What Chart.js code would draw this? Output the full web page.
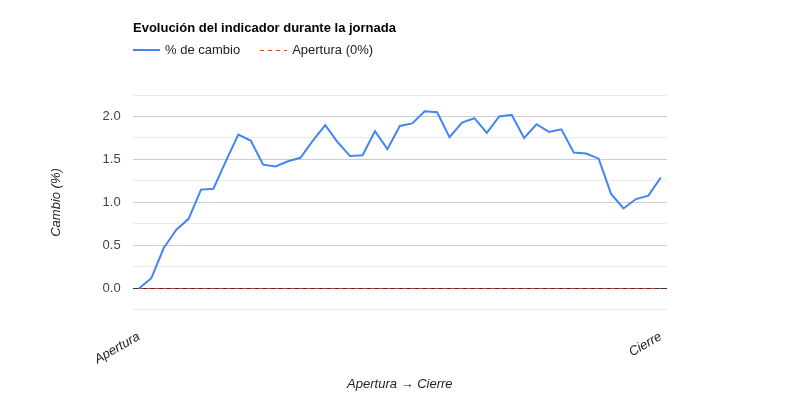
<!DOCTYPE html>
<html lang="es">
<head>
<meta charset="utf-8">
<title>Evolución del indicador durante la jornada</title>
<script src="https://cdn.jsdelivr.net/npm/chart.js@4.4.1/dist/chart.umd.min.js"></script>
<style>
  html, body { margin: 0; padding: 0; background: #fff; }
  #wrap { position: relative; width: 800px; height: 400px; font-family: "Liberation Sans", Arial, sans-serif; }
  #chart { position: absolute; left: 0; top: 0; }
  #title { position: absolute; left: 133px; top: 20px; font-size: 13px; font-weight: bold; color: #000; white-space: nowrap; }
  #legend { position: absolute; left: 133px; top: 42px; font-size: 13px; color: #222; display: flex; white-space: nowrap; }
  .item { display: flex; align-items: center; margin-right: 20px; height: 16px; line-height: 16px; }
  .swatch { width: 27px; margin-right: 5px; }
</style>
</head>
<body>
<div id="wrap">
  <canvas id="chart" width="800" height="400"></canvas>
  <div id="title">Evolución del indicador durante la jornada</div>
  <div id="legend"></div>
</div>
<script>
// Etiquetas del eje X (solo se muestran apertura y cierre)
const etiquetas = [
  'Apertura', '', '', '', '', '', '', '', '', '', '',
  '', '', '', '', '', '', '', '', '', '',
  '', '', '', '', '', '', '', '', '', '',
  '', '', '', '', '', '', '', '', '', '',
  '', 'Cierre'
];

// % de cambio respecto a la apertura
const cambio = [
  0.00, 0.12, 0.47, 0.68, 0.81, 1.15, 1.16, 1.48, 1.79, 1.72,
  1.44, 1.42, 1.48, 1.52, 1.72, 1.90, 1.70, 1.54, 1.55, 1.83,
  1.62, 1.89, 1.92, 2.06, 2.05, 1.76, 1.93, 1.98, 1.81, 2.00,
  2.02, 1.75, 1.91, 1.82, 1.85, 1.58, 1.57, 1.51, 1.10, 0.93,
  1.04, 1.08, 1.29
];

// Línea de referencia: apertura (0%)
const apertura = [
  0, 0, 0, 0, 0, 0, 0, 0, 0, 0,
  0, 0, 0, 0, 0, 0, 0, 0, 0, 0,
  0, 0, 0, 0, 0, 0, 0, 0, 0, 0,
  0, 0, 0, 0, 0, 0, 0, 0, 0, 0,
  0, 0, 0
];

const fuente = '"Liberation Sans", Arial, sans-serif';

const series = [
  { label: '% de cambio', data: cambio, color: '#4285f4', width: 2, dash: [] },
  { label: 'Apertura (0%)', data: apertura, color: '#e8402f', width: 1, dash: [4, 4] }
];

// Leyenda
const legend = document.getElementById('legend');
series.forEach(s => {
  const item = document.createElement('div');
  item.className = 'item';
  const sw = document.createElement('span');
  sw.className = 'swatch';
  if (s.dash.length) {
    sw.style.height = '1px';
    sw.style.background = `repeating-linear-gradient(to right, ${s.color} 0 4px, transparent 4px 8px)`;
  } else {
    sw.style.height = s.width + 'px';
    sw.style.background = s.color;
  }
  item.appendChild(sw);
  const txt = document.createElement('span');
  txt.textContent = s.label;
  item.appendChild(txt);
  legend.appendChild(item);
});

const ctx = document.getElementById('chart').getContext('2d');

new Chart(ctx, {
  type: 'line',
  data: {
    labels: etiquetas,
    datasets: series.map(s => ({
      label: s.label,
      data: s.data,
      borderColor: s.color,
      backgroundColor: s.color,
      borderWidth: s.width,
      borderDash: s.dash,
      pointRadius: 0,
      tension: 0,
      fill: false
    }))
  },
  options: {
    responsive: false,
    animation: false,
    layout: {
      padding: { top: 95, right: 133, bottom: 8, left: 49 }
    },
    plugins: {
      legend: { display: false },
      title: { display: false },
      tooltip: { enabled: false }
    },
    scales: {
      x: {
        offset: true,
        grid: { display: false },
        border: { display: false },
        ticks: {
          autoSkip: false,
          minRotation: 30,
          maxRotation: 30,
          padding: 11,
          color: '#222',
          font: { family: fuente, size: 13, style: 'italic' }
        },
        title: {
          display: true,
          text: 'Apertura → Cierre',
          color: '#222',
          padding: { top: -2, bottom: 0 },
          font: { family: fuente, size: 13, style: 'italic' }
        }
      },
      y: {
        min: -0.25,
        max: 2.25,
        border: { display: false },
        grid: {
          drawTicks: false,
          lineWidth: 1,
          color: c => {
            const v = c.tick.value;
            if (Math.abs(v) < 1e-6) return '#333';
            return Math.abs(v * 2 - Math.round(v * 2)) < 1e-6 ? '#cccccc' : '#ebebeb';
          }
        },
        ticks: {
          stepSize: 0.25,
          padding: 12,
          color: '#444',
          font: { family: fuente, size: 13 },
          callback: v => (v >= 0 && Math.abs(v * 2 - Math.round(v * 2)) < 1e-6) ? v.toFixed(1) : ''
        },
        title: {
          display: true,
          text: 'Cambio (%)',
          color: '#222',
          padding: { top: 0, bottom: 26 },
          font: { family: fuente, size: 13, style: 'italic' }
        }
      }
    }
  }
});
</script>
</body>
</html>
